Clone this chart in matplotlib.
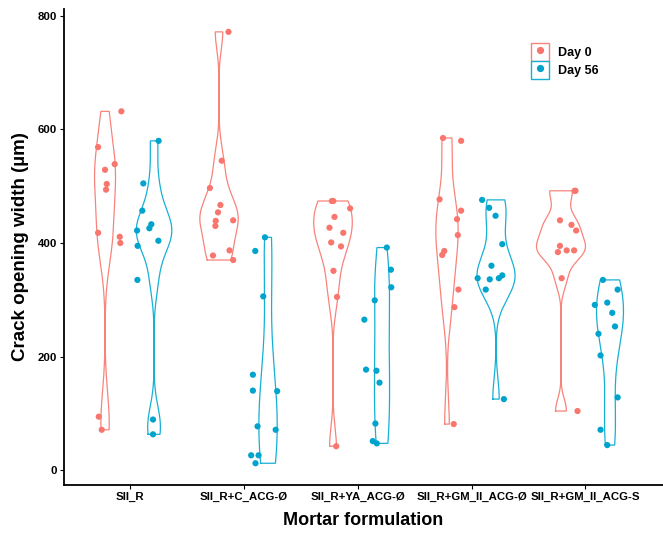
import numpy as np
import matplotlib
matplotlib.use("Agg")
import matplotlib.pyplot as plt
from matplotlib.patches import Patch
from matplotlib.lines import Line2D
from matplotlib.legend_handler import HandlerTuple

plt.rcParams['font.family'] = ['Liberation Sans', 'DejaVu Sans']

# ---------------- data ----------------
groups = ["SII_R", "SII_R+C_ACG-Ø", "SII_R+YA_ACG-Ø", "SII_R+GM_II_ACG-Ø", "SII_R+GM_II_ACG-S"]
series_names = ["Day 0", "Day 56"]

day0_values = [
    [632, 569, 539, 529, 504, 494, 418, 411, 400, 94, 71],
    [772, 545, 497, 467, 454, 439, 430, 440, 378, 387, 370],
    [474, 474, 461, 446, 427, 418, 401, 394, 351, 305, 42],
    [585, 580, 477, 457, 442, 414, 386, 379, 318, 287, 81],
    [492, 492, 440, 432, 422, 395, 384, 387, 387, 338, 104],
]
day56_values = [
    [580, 505, 457, 422, 433, 426, 404, 395, 335, 89, 63],
    [410, 386, 306, 168, 140, 139, 77, 71, 26, 26, 12],
    [392, 353, 322, 299, 265, 177, 175, 154, 82, 51, 47],
    [476, 462, 448, 398, 360, 338, 336, 338, 343, 318, 125],
    [335, 318, 291, 295, 277, 253, 240, 202, 128, 71, 44],
]
# horizontal jitter of each point
day0_jitter = [
    [0.143, -0.061, 0.085, 0.0, 0.015, 0.009, -0.061, 0.129, 0.134, -0.055, -0.029],
    [0.083, 0.024, -0.080, 0.012, -0.009, -0.029, -0.032, 0.124, -0.053, 0.092, 0.124],
    [-0.010, 0.002, 0.150, 0.013, -0.031, 0.090, -0.016, 0.070, 0.004, 0.035, 0.028],
    [-0.035, 0.124, -0.065, 0.124, 0.088, 0.095, -0.024, -0.042, 0.100, 0.065, 0.059],
    [0.127, 0.120, -0.009, 0.092, 0.133, -0.009, -0.027, 0.050, 0.115, 0.006, 0.145],
]
day56_jitter = [
    [0.040, -0.094, -0.103, -0.149, -0.024, -0.041, 0.038, -0.144, -0.146, -0.009, -0.009],
    [-0.027, -0.112, -0.042, -0.133, -0.133, 0.080, -0.092, 0.067, -0.148, -0.083, -0.110],
    [0.042, 0.078, 0.081, -0.064, -0.155, -0.140, -0.049, -0.022, -0.058, -0.081, -0.046],
    [-0.122, -0.060, -0.004, 0.055, -0.040, -0.161, -0.055, 0.025, 0.055, -0.090, 0.069],
    [-0.062, 0.067, -0.133, -0.024, 0.020, 0.044, -0.101, -0.083, 0.067, -0.083, -0.024],
]
y_ticks = [0, 200, 400, 600, 800]

# ---------------- style ----------------
line_colors = ["#F8837A", "#16B0D6"]
point_colors = ["#F8766D", "#00A3CB"]
dodge = 0.215
max_half_width = 0.215


def nrd0(x):
    x = np.asarray(x, float)
    n = len(x)
    sd = np.std(x, ddof=1)
    q75, q25 = np.percentile(x, [75, 25])
    lo = min(sd, (q75 - q25) / 1.34)
    if lo == 0:
        lo = sd if sd > 0 else 1.0
    return 0.9 * lo * n ** (-0.2)


def kde(x, grid):
    x = np.asarray(x, float)
    bw = nrd0(x)
    z = (grid[:, None] - x[None, :]) / bw
    return np.exp(-0.5 * z ** 2).sum(axis=1) / (len(x) * bw * np.sqrt(2 * np.pi))


fig = plt.figure(figsize=(6.63, 5.34), dpi=100)
ax = fig.add_axes([64 / 663, 0.0921, 1 - 64 / 663, 0.8918])

all_series = [day0_values, day56_values]
all_jitter = [day0_jitter, day56_jitter]

# densities
dens = {}
for s, vals in enumerate(all_series):
    for g, v in enumerate(vals):
        grid = np.linspace(min(v), max(v), 512)
        dens[(s, g)] = (grid, kde(v, grid))
gmax = max(d.max() for _, d in dens.values())

positions = np.arange(1, len(groups) + 1)
for s in range(2):
    off = -dodge if s == 0 else dodge
    for g in range(len(groups)):
        grid, d = dens[(s, g)]
        hw = d / gmax * max_half_width
        cx = positions[g] + off
        xs = np.concatenate([cx - hw, (cx + hw)[::-1], [cx - hw[0]]])
        ys = np.concatenate([grid, grid[::-1], [grid[0]]])
        ax.plot(xs, ys, color=line_colors[s], lw=0.9, solid_joinstyle='miter', zorder=2)
for s in range(2):
    off = -dodge if s == 0 else dodge
    for g in range(len(groups)):
        px = positions[g] + off + np.asarray(all_jitter[s][g])
        ax.scatter(px, all_series[s][g], s=20, color=point_colors[s], edgecolors='none', zorder=3)

ax.set_xlim(0.425, 5.68)
ax.set_ylim(-26, 813)
ax.set_xticks(positions)
ax.set_xticklabels(groups)
ax.set_yticks(y_ticks)
for sp in ['top', 'right']:
    ax.spines[sp].set_visible(False)
for sp in ['left', 'bottom']:
    ax.spines[sp].set_linewidth(1.3)
    ax.spines[sp].set_color('black')
ax.tick_params(axis='both', length=3, width=0.8, color='black', pad=2)
for lab in ax.get_xticklabels() + ax.get_yticklabels():
    lab.set_fontweight('bold')
    lab.set_fontsize(8.2)
    lab.set_color('black')

ax.set_xlabel("Mortar formulation", fontsize=13, fontweight='bold', labelpad=7)
ax.set_ylabel("Crack opening width (µm)", fontsize=13.5, fontweight='bold', labelpad=6)

handles = [(Patch(facecolor='white', edgecolor=line_colors[s], lw=1.0),
            Line2D([], [], marker='o', color=point_colors[s], linestyle='none', markersize=4.2))
           for s in range(2)]
leg = ax.legend(handles, series_names, handler_map={tuple: HandlerTuple(ndivide=1)},
                loc='upper left', bbox_to_anchor=(531 / 663, 1 - 43 / 534),
                bbox_transform=fig.transFigure, frameon=False,
                prop={'weight': 'bold', 'size': 9}, handlelength=1.45, handleheight=1.85,
                labelspacing=0.0, handletextpad=0.7, borderpad=0.0, borderaxespad=0.0)

fig.savefig("out.png", dpi=100)
